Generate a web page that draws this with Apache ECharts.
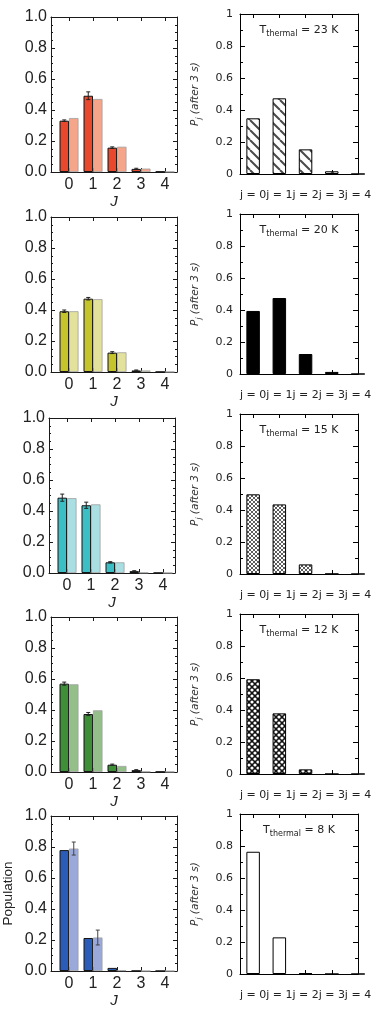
<!DOCTYPE html>
<html>
<head>
<meta charset="utf-8">
<script src="https://cdn.jsdelivr.net/npm/echarts@6/dist/echarts.min.js"></script>
<style>html,body{margin:0;padding:0;background:#fff;}#c{width:382px;height:1010px;}</style>
</head>
<body>
<div id="c"></div>
<script>
// ---------- data ----------
const levels = [0, 1, 2, 3, 4];
const tempsK = [23, 20, 15, 12, 8];
// left column: measured (dark) and model (light) rotational populations
const measured = [
  [0.331, 0.492, 0.157, 0.020, 0.003],
  [0.392, 0.473, 0.125, 0.010, 0.001],
  [0.486, 0.437, 0.069, 0.012, 0.001],
  [0.570, 0.374, 0.047, 0.012, 0.002],
  [0.780, 0.213, 0.020, 0.001, 0.000]
];
const measuredErr = [
  [0.005, 0.025, 0.005, 0.004, 0],
  [0.008, 0.008, 0.006, 0.003, 0],
  [0.023, 0.020, 0.004, 0.003, 0],
  [0.010, 0.010, 0.004, 0.003, 0],
  [0, 0, 0, 0, 0]
];
const simulated = [
  [0.348, 0.471, 0.163, 0.022, 0.002],
  [0.392, 0.470, 0.127, 0.010, 0.001],
  [0.483, 0.443, 0.069, 0.003, 0.001],
  [0.566, 0.398, 0.039, 0.003, 0.002],
  [0.790, 0.216, 0.005, 0.000, 0.000]
];
const simulatedErr = [
  [0, 0, 0, 0, 0],
  [0, 0, 0, 0, 0],
  [0, 0, 0, 0, 0],
  [0, 0, 0, 0, 0],
  [0.042, 0.048, 0, 0, 0]
];
// right column: P_j after 3 s
const thermalPop = [
  [0.348, 0.473, 0.154, 0.017, 0],
  [0.394, 0.475, 0.125, 0.013, 0],
  [0.498, 0.435, 0.060, 0.001, 0],
  [0.592, 0.379, 0.029, 0, 0],
  [0.764, 0.229, 0.006, 0, 0]
];
const darkColors  = ['#e8482c', '#c6c42c', '#3bbfc4', '#3f8f38', '#2b5db8'];
const lightColors = ['#f5a68a', '#e3e29c', '#a9dfe2', '#95bf8a', '#9aa9d9'];

// ---------- fill patterns ----------
function makeTile(size, draw) {
  const c = document.createElement('canvas');
  c.width = size; c.height = size;
  draw(c.getContext('2d'), size);
  return c;
}
const hatchTile = makeTile(10, (g, s) => {
  g.fillStyle = '#fff'; g.fillRect(0, 0, s, s);
  g.strokeStyle = '#4a4a4a'; g.lineWidth = 2;
  g.beginPath();
  for (const o of [-s, 0, s]) { g.moveTo(o, 0); g.lineTo(o + s, s); }
  g.stroke();
});
const fineCrossTile = makeTile(4, (g, s) => {
  g.fillStyle = '#fff'; g.fillRect(0, 0, s, s);
  g.strokeStyle = '#333'; g.lineWidth = 0.8;
  g.beginPath();
  g.moveTo(0, 0); g.lineTo(s, s);
  g.moveTo(s, 0); g.lineTo(0, s);
  g.stroke();
});
const dotTile = makeTile(6, (g, s) => {
  g.fillStyle = '#111'; g.fillRect(0, 0, s, s);
  g.fillStyle = '#fff';
  for (const [cx, cy] of [[0,0],[s,0],[0,s],[s,s],[s/2,s/2]]) {
    g.beginPath(); g.arc(cx, cy, 1.6, 0, Math.PI * 2); g.fill();
  }
});
const rightFills = [
  { image: hatchTile, repeat: 'repeat' },
  '#000',
  { image: fineCrossTile, repeat: 'repeat' },
  { image: dotTile, repeat: 'repeat' },
  '#fff'
];

// ---------- build option ----------
const LF = 'Liberation Sans, Arial, Helvetica, sans-serif';
const RF = 'DejaVu Sans, sans-serif';
const INK = '#1a1a1a';
const leftPos = [[51, 17], [51, 217], [49, 418], [51, 617], [51, 816]];
const rightPos = [[240, 14], [240, 214], [240, 414], [240, 614], [240, 814]];
const BW = 9.5;

const grid = [], xAxis = [], yAxis = [], series = [], graphic = [];

function errSeries(xi, yi, vals, errs, offset, color) {
  return {
    type: 'custom', xAxisIndex: xi, yAxisIndex: yi, z: 5, clip: false, silent: true,
    encode: { x: 0, y: 1 },
    data: levels.map((j, k) => [j, vals[k], errs[k]]),
    renderItem: function (params, api) {
      const e = api.value(2);
      if (!(e > 0)) return null;
      const x = api.value(0), v = api.value(1);
      const hi = api.coord([x, v + e]);
      const lo = api.coord([x, v - e]);
      const cx = hi[0] + offset;
      const st = { stroke: color, lineWidth: 1 };
      return {
        type: 'group',
        children: [
          { type: 'line', shape: { x1: cx, y1: hi[1], x2: cx, y2: lo[1] }, style: st },
          { type: 'line', shape: { x1: cx - 2, y1: hi[1], x2: cx + 2, y2: hi[1] }, style: st },
          { type: 'line', shape: { x1: cx - 2, y1: lo[1], x2: cx + 2, y2: lo[1] }, style: st }
        ]
      };
    }
  };
}

for (let p = 0; p < 5; p++) {
  // ----- left panel -----
  let gi = grid.length;
  grid.push({ left: leftPos[p][0], top: leftPos[p][1], width: 126, height: 155 });
  let xb = xAxis.length;
  xAxis.push({
    type: 'value', gridIndex: gi, position: 'bottom', min: -0.75, max: 4.5,
    axisLine: { show: true, onZero: false, lineStyle: { color: INK, width: 1 } },
    axisTick: { show: true, inside: true, length: 4, customValues: levels, lineStyle: { color: INK } },
    axisLabel: { customValues: levels, fontSize: 16, fontFamily: LF, color: '#222', margin: 5 },
    splitLine: { show: false },
    name: 'J', nameLocation: 'middle', nameGap: 19,
    nameTextStyle: { fontSize: 15, fontStyle: 'italic', fontFamily: LF, color: '#222' }
  });
  xAxis.push({
    type: 'value', gridIndex: gi, position: 'top', min: -0.75, max: 4.5,
    axisLine: { show: true, onZero: false, lineStyle: { color: INK, width: 1 } },
    axisTick: { show: true, inside: true, length: 4, customValues: levels, lineStyle: { color: INK } },
    axisLabel: { show: false }, splitLine: { show: false }
  });
  let yl = yAxis.length;
  const yCommon = {
    type: 'value', gridIndex: gi, min: 0, max: 1, interval: 0.2,
    axisLine: { show: true, onZero: false, lineStyle: { color: INK, width: 1 } },
    axisTick: { show: true, inside: true, length: 4, lineStyle: { color: INK } },
    minorTick: { show: true, splitNumber: 4, length: 2, lineStyle: { color: INK } },
    splitLine: { show: false }, minorSplitLine: { show: false }
  };
  yAxis.push(Object.assign({}, yCommon, {
    position: 'left',
    axisLabel: { formatter: v => v.toFixed(1), fontSize: 16, fontFamily: LF, color: '#222', margin: 4 },
    name: p === 4 ? 'Population' : '', nameLocation: 'middle', nameGap: 36, nameRotate: 90,
    nameTextStyle: { fontSize: 13.5, fontFamily: LF, color: '#222' }
  }));
  yAxis.push(Object.assign({}, yCommon, { position: 'right', axisLabel: { show: false } }));

  series.push({
    type: 'bar', xAxisIndex: xb, yAxisIndex: yl, barWidth: BW, barGap: '0%',
    data: levels.map((j, k) => [j, measured[p][k]]),
    itemStyle: { color: darkColors[p], borderColor: '#151515', borderWidth: 1 }
  });
  series.push({
    type: 'bar', xAxisIndex: xb, yAxisIndex: yl, barWidth: BW, barGap: '0%',
    data: levels.map((j, k) => [j, simulated[p][k]]),
    itemStyle: { color: lightColors[p], borderColor: '#a0a0a0', borderWidth: 0.8 }
  });
  series.push(errSeries(xb, yl, measured[p], measuredErr[p], -BW / 2, '#222'));
  series.push(errSeries(xb, yl, simulated[p], simulatedErr[p], BW / 2, '#444'));

  // ----- right panel -----
  gi = grid.length;
  grid.push({ left: rightPos[p][0], top: rightPos[p][1], width: 118, height: 160 });
  xb = xAxis.length;
  xAxis.push({
    type: 'value', gridIndex: gi, position: 'bottom', min: -0.5, max: 4,
    axisLine: { show: true, onZero: false, lineStyle: { color: '#000', width: 1 } },
    axisTick: { show: true, inside: true, length: 4, customValues: levels, lineStyle: { color: '#000' } },
    axisLabel: { customValues: levels, formatter: v => 'j = ' + v, fontSize: 11, fontFamily: RF, color: '#222', margin: 16 },
    splitLine: { show: false }
  });
  xAxis.push({
    type: 'value', gridIndex: gi, position: 'top', min: -0.5, max: 4,
    axisLine: { show: true, onZero: false, lineStyle: { color: '#000', width: 1 } },
    axisTick: { show: true, inside: true, length: 4, customValues: levels, lineStyle: { color: '#000' } },
    axisLabel: { show: false }, splitLine: { show: false }
  });
  yl = yAxis.length;
  const yR = {
    type: 'value', gridIndex: gi, min: 0, max: 1, interval: 0.2,
    axisLine: { show: true, onZero: false, lineStyle: { color: '#000', width: 1 } },
    axisTick: { show: true, inside: true, length: 5, lineStyle: { color: '#000' } },
    minorTick: { show: true, splitNumber: 2, length: 3, lineStyle: { color: '#000' } },
    splitLine: { show: false }, minorSplitLine: { show: false }
  };
  yAxis.push(Object.assign({}, yR, {
    position: 'left',
    axisLabel: { fontSize: 11, fontFamily: RF, color: '#222', margin: 7 },
    name: '{i|P}{s|j}{i| (after 3 s)}', nameLocation: 'middle', nameGap: 38, nameRotate: 90,
    nameTextStyle: {
      fontFamily: RF, color: '#333',
      rich: {
        i: { fontSize: 10.5, fontStyle: 'italic', fontFamily: RF, color: '#333', lineHeight: 12, verticalAlign: 'top' },
        s: { fontSize: 7.5, fontStyle: 'italic', fontFamily: RF, color: '#333', lineHeight: 8, padding: [6, 0, 0, 0] }
      }
    }
  }));
  yAxis.push(Object.assign({}, yR, { position: 'right', axisLabel: { show: false } }));
  series.push({
    type: 'bar', xAxisIndex: xb, yAxisIndex: yl, barWidth: 13.5,
    data: levels.map((j, k) => [j, thermalPop[p][k]]),
    itemStyle: { color: rightFills[p], borderColor: '#000', borderWidth: 1 }
  });
  graphic.push({
    type: 'text', x: 299, y: rightPos[p][1] + 17, z: 10,
    style: {
      text: '{a|T}{b|thermal}{a| = ' + tempsK[p] + ' K}',
      align: 'center', verticalAlign: 'middle', fill: '#222',
      rich: {
        a: { fontSize: 11, fontFamily: RF, fill: '#222', lineHeight: 12, verticalAlign: 'top' },
        b: { fontSize: 8, fontFamily: RF, fill: '#222', lineHeight: 8, padding: [6, 0, 0, 0] }
      }
    }
  });
}

const chart = echarts.init(document.getElementById('c'), null, { renderer: 'canvas', width: 382, height: 1010 });
chart.setOption({
  animation: false,
  backgroundColor: '#fff',
  grid, xAxis, yAxis, series, graphic
});
</script>
</body>
</html>
